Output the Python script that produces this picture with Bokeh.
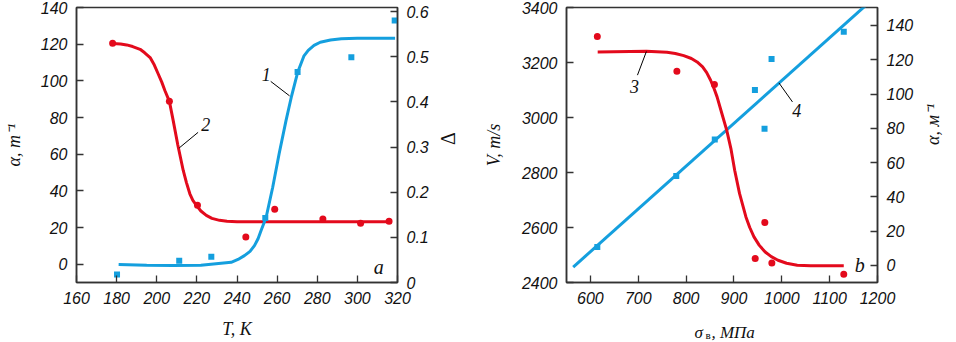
import math
from bokeh.plotting import figure
from bokeh.models import Range1d, LinearAxis, FixedTicker, NumeralTickFormatter, Label
from bokeh.layouts import row
from bokeh.embed import file_html
from bokeh.resources import INLINE

# ---------------- Panel a ----------------
# curve 1 (Delta vs T) points
c1_T = [181, 195, 208, 222, 237.1, 240.5, 243.7, 246.5, 248.7, 250.5, 252, 254.5, 257.8, 261, 264.4, 267.2,
        270.2, 273.4, 275.5, 278.4, 281.5, 286.6, 292, 299.9, 318.8]
c1_D = [0.0396, 0.038, 0.0374, 0.038, 0.0447, 0.051, 0.0595, 0.069, 0.0816, 0.097, 0.115, 0.144, 0.211, 0.285,
        0.358, 0.413, 0.465, 0.502, 0.514, 0.525, 0.532, 0.537, 0.540, 0.541, 0.541]
# measured Delta (squares)
p1_T = [180.2, 211.2, 227.2, 254.1, 270.2, 297.0, 318.6]
p1_D = [0.0175, 0.048, 0.057, 0.143, 0.466, 0.499, 0.580]
# curve 2 (alpha vs T)
c2_T = [178, 182, 185, 188, 191.7, 194, 196.7, 198.8, 200.8, 202.5, 204.1, 206.3, 208.2, 210.5, 213.2,
        214.8, 216.5, 218, 219.8, 222, 224.7, 227.5, 231.3, 235, 240, 316]
c2_A = [120.3, 120.1, 119.6, 118.7, 117.2, 115.3, 112.7, 108.6, 103.6, 99.3, 94.6, 88.8, 78.3, 65.0, 51.1,
        44.5, 38.4, 34.8, 32.1, 29.0, 26.6, 25.0, 23.9, 23.4, 23.2, 23.2]
# measured alpha (circles)
p2_T = [178.0, 206.3, 220.3, 244.4, 258.8, 282.8, 301.6, 315.8]
p2_A = [120.5, 88.8, 32.2, 14.8, 29.9, 24.6, 22.3, 23.4]

# ---------------- Panel b ----------------
# curve 3 (V vs sigma)
c3_S = [615.2, 717, 760, 777.4, 795, 811, 823, 834.5, 843, 851.2, 858, 864.7, 874.7, 884.8, 893.5, 901.5,
        911.6, 925, 933, 941.8, 953, 965.3, 978, 992, 1010, 1032.3, 1060, 1129.5]
c3_V = [3238.5, 3241, 3237, 3232.7, 3225, 3214.5, 3202, 3184, 3163, 3135.6, 3107, 3075, 3014.5, 2954, 2888,
        2808, 2724, 2638.6, 2600, 2566, 2535, 2511, 2494, 2481, 2470, 2463, 2461, 2460.5]
p3_S = [614.4, 780.7, 859.2, 944.4, 964.5, 979.2, 1129.5]
p3_V = [3294.5, 3168, 3120, 2487, 2618, 2471, 2430]
# line 4 (alpha vs sigma)
c4_S = [564, 1175]
c4_A = [-1.0, 151.6]
p4_S = [614.4, 779.4, 859.9, 943.8, 963.9, 978.6, 1129.5]
p4_A = [10.7, 52.1, 73.5, 102.4, 79.7, 120.5, 136.4]

RED = "#e30a1c"
BLUE = "#149fde"
AX = "#333333"
TICKFONT = "Liberation Sans"
SERIF = "Liberation Serif"


def style_axis(ax, label=None, standoff=12, label_style="italic", label_size="18px"):
    ax.axis_line_color = AX
    ax.axis_line_width = 1.5
    ax.major_tick_line_color = AX
    ax.major_tick_line_width = 1.3
    ax.major_tick_in = 7
    ax.major_tick_out = 0
    ax.minor_tick_line_color = None
    ax.major_label_text_font = TICKFONT
    ax.major_label_text_font_style = "italic"
    ax.major_label_text_font_size = "16px"
    ax.major_label_text_color = "#111111"
    ax.major_label_standoff = 9
    if label is not None:
        ax.axis_label = label
        ax.axis_label_text_font = SERIF
        ax.axis_label_text_font_style = label_style
        ax.axis_label_text_font_size = label_size
        ax.axis_label_text_color = "#111111"
        ax.axis_label_standoff = standoff


def make_fig(width, xr, yr, bl, br):
    p = figure(width=width, height=342, x_range=xr, y_range=yr,
               output_backend="svg", toolbar_location=None,
               min_border_left=bl, min_border_right=br, min_border_top=7, min_border_bottom=60)
    p.grid.visible = False
    p.outline_line_color = AX
    p.outline_line_width = 1.5
    p.background_fill_color = "white"
    p.border_fill_color = "white"
    return p


def lab(p, x, y, text, size="18px", style="italic", align="center", baseline="middle", rng="default"):
    p.add_layout(Label(x=x, y=y, text=text, text_font=SERIF, text_font_style=style,
                       text_font_size=size, text_align=align, text_baseline=baseline,
                       text_color="#111111", y_range_name=rng))


# ----- figure a -----
pa = make_fig(480, Range1d(160, 320), Range1d(-10, 140), 74, 83)
pa.extra_y_ranges = {"d": Range1d(0, 0.609)}
pa.xaxis.ticker = FixedTicker(ticks=list(range(160, 321, 20)))
pa.yaxis.ticker = FixedTicker(ticks=list(range(0, 141, 20)))
style_axis(pa.xaxis[0], "T, K", 12)
style_axis(pa.yaxis[0], "α, m⁻¹", 14)
ra = LinearAxis(y_range_name="d", ticker=FixedTicker(ticks=[0, 0.1, 0.2, 0.3, 0.4, 0.5, 0.6]),
                formatter=NumeralTickFormatter(format="0.[0]"))
style_axis(ra, "Δ", 16, label_style="normal", label_size="20px")
ra.axis_label_orientation = math.pi / 2
pa.add_layout(ra, "right")

pa.line(c2_T, c2_A, line_color=RED, line_width=3)
pa.scatter(p2_T, p2_A, marker="circle", size=7, fill_color=RED, line_color=None)
pa.line(c1_T, c1_D, line_color=BLUE, line_width=3, y_range_name="d")
pa.scatter(p1_T, p1_D, marker="square", size=6, fill_color=BLUE, line_color=None, y_range_name="d")

pa.segment(x0=[256.8, 220.6], y0=[99.7, 71.9], x1=[266.2, 211.2], y1=[91.8, 63.4],
           line_color="black", line_width=1)
lab(pa, 254.6, 103.5, "1", size="18px")
lab(pa, 224.4, 76.0, "2", size="18px")
lab(pa, 310.6, -1.5, "a", size="20px")

# ----- figure b -----
pb = make_fig(476, Range1d(550, 1200), Range1d(2400, 3400), 80, 73)
pb.extra_y_ranges = {"al": Range1d(-10, 150.5)}
pb.xaxis.ticker = FixedTicker(ticks=list(range(600, 1201, 100)))
pb.yaxis.ticker = FixedTicker(ticks=list(range(2400, 3401, 200)))
style_axis(pb.xaxis[0], None)
style_axis(pb.yaxis[0], "V, m/s", 15)
rb = LinearAxis(y_range_name="al", ticker=FixedTicker(ticks=list(range(0, 141, 20))))
style_axis(rb, "α, м⁻¹", 17)
rb.axis_label_orientation = math.pi / 2
pb.add_layout(rb, "right")

pb.line(c4_S, c4_A, line_color=BLUE, line_width=3, y_range_name="al")
pb.scatter(p4_S, p4_A, marker="square", size=6, fill_color=BLUE, line_color=None, y_range_name="al")
pb.line(c3_S, c3_V, line_color=RED, line_width=3)
pb.scatter(p3_S, p3_V, marker="circle", size=7, fill_color=RED, line_color=None)

pb.segment(x0=[698.3, 1022.3], y0=[3154, 3056.7], x1=[717, 994], y1=[3240, 3125.8],
           line_color="black", line_width=1)
lab(pb, 692.3, 3111, "3", size="18px")
lab(pb, 1031, 3026.5, "4", size="18px")
lab(pb, 1162.8, 2462, "b", size="20px")

# x-axis title of panel b, "σв, МПа", as two labels in the panel below the frame
pb.add_layout(Label(x=128, y=-7, x_units="screen", y_units="screen", text="σ\u2002, МПа",
                    text_font=SERIF, text_font_style="italic", text_font_size="17px",
                    text_align="left", text_baseline="alphabetic", text_color="#111111"), "below")
pb.add_layout(Label(x=139, y=3, x_units="screen", y_units="screen", text="в", text_font=SERIF,
                    text_font_size="11px", text_align="left", text_baseline="alphabetic",
                    text_color="#111111"), "below")

layout = row(pa, pb, spacing=0)
open("out.html", "w").write(file_html(layout, INLINE))
